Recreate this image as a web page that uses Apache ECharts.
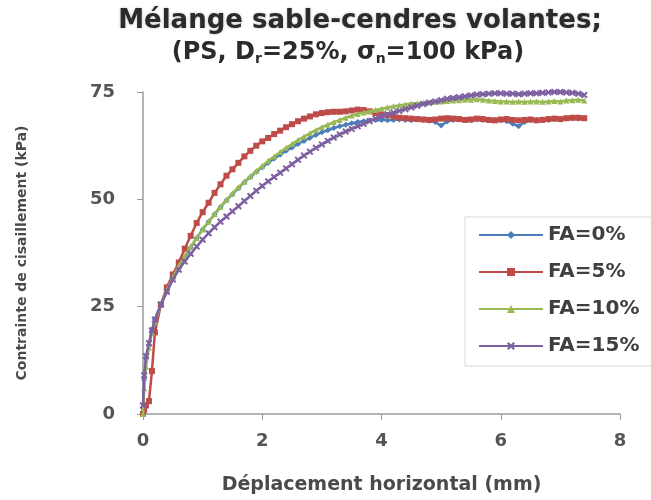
<!DOCTYPE html>
<html>
<head>
<meta charset="utf-8">
<script src="https://cdn.jsdelivr.net/npm/echarts@6/dist/echarts.min.js"></script>
<style>html,body{margin:0;padding:0;background:#fff}#c{width:651px;height:500px}</style>
</head>
<body>
<div id="c"></div>
<script>
// Horizontal displacement (mm)
const dispX = [0, 0.02, 0.05, 0.1, 0.15,
  0.2, 0.3, 0.4, 0.5, 0.6, 0.7, 0.8, 0.9, 1.0, 1.1,
  1.2, 1.3, 1.4, 1.5, 1.6, 1.7, 1.8, 1.9, 2.0, 2.1,
  2.2, 2.3, 2.4, 2.5, 2.6, 2.7, 2.8, 2.9, 3.0, 3.1,
  3.2, 3.3, 3.4, 3.5, 3.6, 3.7, 3.8, 3.9, 4.0, 4.1,
  4.2, 4.3, 4.4, 4.5, 4.6, 4.7, 4.8, 4.9, 5.0, 5.1,
  5.2, 5.3, 5.4, 5.5, 5.6, 5.7, 5.8, 5.9, 6.0, 6.1,
  6.2, 6.3, 6.4, 6.5, 6.6, 6.7, 6.8, 6.9, 7.0, 7.1,
  7.2, 7.3, 7.4];

// Shear stress (kPa)
const fa0 = [0, 8, 13, 16, 19.5,
  22, 25.5, 28.5, 31.5, 34, 36.5, 38.8, 41, 43, 44.8,
  46.5, 48.2, 49.8, 51.2, 52.6, 54, 55.2, 56.4, 57.5, 58.5,
  59.5, 60.4, 61.3, 62.1, 62.9, 63.6, 64.3, 65, 65.6, 66.1,
  66.6, 67, 67.4, 67.7, 68, 68.2, 68.4, 68.5, 68.5, 68.4,
  68.5, 68.6, 68.5, 68.4, 68.6, 68.5, 68.3, 68.0, 67.2, 68.1,
  68.5, 68.6, 68.5, 68.4, 68.6, 68.5, 68.4, 68.5, 68.4, 68.2,
  67.6, 67.0, 68.0, 68.4, 68.5, 68.6, 68.5, 68.7, 68.6, 68.8,
  68.9, 68.8, 68.9];

const fa5 = [0, 1, 2, 3, 10,
  19, 25.5, 29.5, 32.5, 35.3, 38.5, 41.5, 44.5, 47, 49.2,
  51.5, 53.5, 55.5, 57, 58.5, 60, 61.3, 62.5, 63.5, 64.3,
  65.2, 66, 66.8, 67.5, 68.2, 68.8, 69.3, 69.8, 70.1, 70.3,
  70.4, 70.4, 70.5, 70.7, 70.9, 70.8, 70.5, 70.1, 69.8, 69.6,
  69.3, 69.0, 68.9, 68.8, 68.7, 68.6, 68.5, 68.6, 68.8, 68.9,
  68.8, 68.7, 68.5, 68.6, 68.8, 68.7, 68.5, 68.4, 68.6, 68.7,
  68.5, 68.4, 68.5, 68.6, 68.4, 68.5, 68.7, 68.8, 68.7, 68.9,
  69.0, 69.0, 68.9];

const fa10 = [0, 6, 11, 15.5, 19,
  21.5, 25.5, 28.8, 31.8, 34.5, 36.8, 39, 41, 43, 44.8,
  46.6, 48.3, 49.9, 51.4, 52.8, 54.1, 55.4, 56.6, 57.8, 59,
  60, 61, 62, 62.9, 63.8, 64.6, 65.4, 66.1, 66.8, 67.4,
  68, 68.5, 69, 69.5, 69.9, 70.2, 70.5, 70.8, 71.1, 71.4,
  71.7, 71.9, 72.1, 72.3, 72.4, 72.5, 72.6, 72.7, 72.8, 72.9,
  73, 73.1, 73.2, 73.2, 73.3, 73.2, 73.0, 72.9, 72.8, 72.8,
  72.7, 72.8, 72.7, 72.8, 72.8, 72.7, 72.8, 72.9, 72.8, 73,
  73.1, 73.2, 73];

const fa15 = [2, 9, 13.5, 16.5, 19.5,
  22, 25.5, 28.5, 31.3, 33.6, 35.5, 37.3, 39, 40.6, 42.1,
  43.5, 44.8, 46, 47.2, 48.4, 49.6, 50.8, 52, 53.1, 54.2,
  55.2, 56.2, 57.2, 58.2, 59.2, 60.2, 61.1, 62, 62.8, 63.6,
  64.4, 65.1, 65.8, 66.4, 67, 67.6, 68.2, 68.8, 69.3, 69.8,
  70.2, 70.6, 71, 71.4, 71.8, 72.2, 72.5, 72.8, 73.1, 73.4,
  73.6, 73.8, 74, 74.2, 74.4, 74.5, 74.6, 74.7, 74.7, 74.6,
  74.6, 74.5, 74.6, 74.7, 74.7, 74.8, 74.9, 75, 75, 74.9,
  74.8, 74.6, 74.3];

const seriesNames = ['FA=0%', 'FA=5%', 'FA=10%', 'FA=15%'];
const xTicks = [0, 2, 4, 6, 8];
const yTicks = [0, 25, 50, 75];

const pair = ys => dispX.map((x, i) => [x, ys[i]]);
const colors = ['#4a7ebb', '#be4b48', '#98b954', '#7d60a0'];
const symbols = ['diamond', 'rect', 'triangle',
  'path://M0,2L2,0L5,3L8,0L10,2L7,5L10,8L8,10L5,7L2,10L0,8L3,5Z'];
const data = [fa0, fa5, fa10, fa15];

const chart = echarts.init(document.getElementById('c'), null, {renderer: 'canvas'});
const FONT = 'DejaVu Sans';
chart.setOption({
  animation: false,
  backgroundColor: '#ffffff',
  color: colors,
  title: [
    {
      text: 'Mélange sable-cendres volantes;',
      left: 355, top: 3, textAlign: 'center',
      textStyle: {fontFamily: FONT, fontWeight: 'bold', fontSize: 26, color: '#2b2b2b',
        textShadowColor: 'rgba(0,0,0,0.25)', textShadowBlur: 3}
    },
    {
      text: '{b|(PS, D}{s|r}{b|=25%, σ}{s|n}{b|=100 kPa)}',
      left: 343, top: 35, textAlign: 'center',
      textStyle: {
        rich: {
          b: {fontFamily: FONT, fontWeight: 'bold', fontSize: 24, color: '#2b2b2b'},
          s: {fontFamily: FONT, fontWeight: 'bold', fontSize: 14, color: '#2b2b2b', verticalAlign: 'bottom', padding: [12, 0, 0, 0]}
        }
      }
    }
  ],
  legend: {
    orient: 'vertical',
    left: 465, top: 217,
    padding: [8, 30, 10, 13],
    itemWidth: 64, itemHeight: 10, itemGap: 17,
    backgroundColor: '#ffffff',
    borderColor: '#d9d9d9', borderWidth: 1,
    textStyle: {fontFamily: FONT, fontWeight: 'bold', fontSize: 20, color: '#404040'},
    data: seriesNames
  },
  grid: {left: 143, right: 31, top: 92, bottom: 74},
  xAxis: {
    type: 'value', min: xTicks[0], max: xTicks[xTicks.length - 1], interval: 2,
    name: 'Déplacement horizontal (mm)', nameLocation: 'middle', nameGap: 62,
    nameTextStyle: {fontFamily: FONT, fontWeight: 'bold', fontSize: 19, color: '#4a4a4a'},
    axisLine: {lineStyle: {color: '#9a9a9a', width: 1.5}},
    axisTick: {show: true, inside: false, length: 6, lineStyle: {color: '#9a9a9a'}},
    axisLabel: {fontFamily: FONT, fontWeight: 'bold', fontSize: 18, color: '#555555', margin: 18},
    splitLine: {show: false}
  },
  yAxis: {
    type: 'value', min: yTicks[0], max: yTicks[yTicks.length - 1], interval: 25,
    name: 'Contrainte de cisaillement (kPa)', nameLocation: 'middle', nameGap: 114, nameRotate: 90,
    nameTextStyle: {fontFamily: FONT, fontWeight: 'bold', fontSize: 14, color: '#4a4a4a'},
    axisLine: {show: true, lineStyle: {color: '#9a9a9a', width: 1.5}},
    axisTick: {show: true, inside: false, length: 6, lineStyle: {color: '#9a9a9a'}},
    axisLabel: {fontFamily: FONT, fontWeight: 'bold', fontSize: 18, color: '#555555', margin: 28},
    splitLine: {show: false}
  },
  series: seriesNames.map((n, i) => ({
    name: n, type: 'line', data: pair(data[i]),
    symbol: symbols[i], symbolSize: i === 3 ? 7 : 6, showSymbol: true,
    lineStyle: {width: 2.5, color: colors[i]},
    itemStyle: {color: colors[i]},
    z: 2 + i
  }))
});
</script>
</body>
</html>
